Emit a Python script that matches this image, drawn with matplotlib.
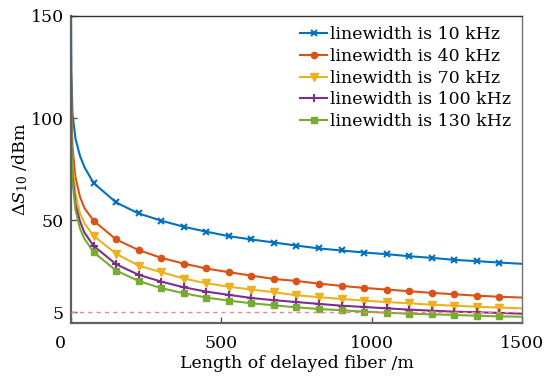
import matplotlib
matplotlib.use("Agg")
import matplotlib.pyplot as plt
from matplotlib.transforms import ScaledTranslation

# fibre length (m); markers every 75 m from 75 to 1425
comprimento = [0.1, 1, 5, 15, 30, 45,
               75, 150, 225, 300, 375, 450, 525, 600, 675, 750,
               825, 900, 975, 1050, 1125, 1200, 1275, 1350, 1425, 1500]

ds_10k = [158, 124, 102, 90, 81.5, 76,
          68.3, 58.8, 53.4, 49.9, 46.9, 44.5, 42.3, 40.7, 39.2, 37.7,
          36.3, 35.3, 34.3, 33.5, 32.5, 31.7, 30.7, 30.1, 29.4, 28.8]
ds_40k = [131, 104, 86, 71, 61.5, 56,
          49.9, 40.7, 35.5, 31.7, 28.9, 26.5, 24.7, 23.0, 21.4, 20.4,
          19.1, 18.0, 17.0, 16.2, 15.4, 14.6, 13.9, 13.2, 12.7, 12.3]
ds_70k = [124, 96, 78, 63, 53.5, 48.5,
          42.5, 33.7, 27.9, 24.7, 21.6, 19.3, 17.6, 16.2, 14.9, 13.4,
          12.5, 11.6, 10.8, 10.1, 9.5, 8.8, 8.3, 7.8, 7.4, 7.0]
ds_100k = [119, 93, 72, 58, 49.5, 44,
           37.6, 28.6, 23.4, 20.1, 17.3, 15.2, 13.6, 12.1, 11.0, 10.1,
           9.2, 8.3, 7.7, 7.0, 6.4, 5.9, 5.4, 5.1, 4.8, 4.4]
ds_130k = [115, 90, 69, 55, 46, 41,
           34.5, 25.5, 20.4, 16.9, 14.4, 12.3, 10.8, 9.5, 8.5, 7.5,
           6.7, 6.1, 5.4, 4.9, 4.4, 4.1, 3.8, 3.4, 3.1, 2.9]

rotulos = ["linewidth is 10 kHz", "linewidth is 40 kHz", "linewidth is 70 kHz",
           "linewidth is 100 kHz", "linewidth is 130 kHz"]
limiar = 5

CORES = ["#0072BD", "#D95319", "#EDB120", "#7E2F8E", "#77AC30"]
MARCAS = ["x", "o", "v", "+", "s"]
TAMANHOS = [5, 4.5, 5.5, 6, 4.3]
BORDAS = [1.5, 1, 1, 1.5, 1]

plt.rcParams["font.family"] = ["DejaVu Serif"]
plt.rcParams["mathtext.fontset"] = "dejavuserif"
plt.rcParams["font.size"] = 12.5

fig = plt.figure(figsize=(5.46, 3.77), dpi=100)
ax = fig.add_axes([0.130, 0.144, 0.826, 0.814])

series = [ds_10k, ds_40k, ds_70k, ds_100k, ds_130k]
for y, cor, m, ms, mew, rot in zip(series, CORES, MARCAS, TAMANHOS, BORDAS, rotulos):
    ax.plot(comprimento, y, color=cor, lw=1.5, marker=m, ms=ms, mew=mew,
            markevery=slice(6, -1), label=rot)

ax.axhline(limiar, color="#ff7f7f", lw=1, ls=(0, (3, 3)), zorder=5)

ax.set_xlim(0, 1500)
ax.set_ylim(0, 150)
ax.set_xticks([0, 500, 1000, 1500])
ax.set_yticks([5, 50, 100, 150])
ax.tick_params(axis="both", direction="in", length=4, width=1, color="#555555")
ax.tick_params(axis="x", pad=9)
ax.tick_params(axis="y", pad=5)
# o "0" do eixo x fica um pouco deslocado para a esquerda
rot0 = ax.get_xticklabels()[0]
rot0.set_transform(rot0.get_transform() + ScaledTranslation(-0.11, 0, fig.dpi_scale_trans))

for lado in ["left", "bottom"]:
    ax.spines[lado].set_linewidth(1.6)
    ax.spines[lado].set_color("#606060")
ax.spines["right"].set_linewidth(1.0)
ax.spines["right"].set_color("#707070")
ax.spines["top"].set_linewidth(1.0)
ax.spines["top"].set_color("#333333")

ax.set_xlabel("Length of delayed fiber /m", labelpad=2)
ax.set_ylabel(r"$\Delta S_{10}$ /dBm", labelpad=1)

ax.legend(loc="upper right", frameon=False, handlelength=1.55, handletextpad=0.2,
          labelspacing=0.27, borderaxespad=0.2, borderpad=0.4)

fig.savefig("out.png", dpi=100)
